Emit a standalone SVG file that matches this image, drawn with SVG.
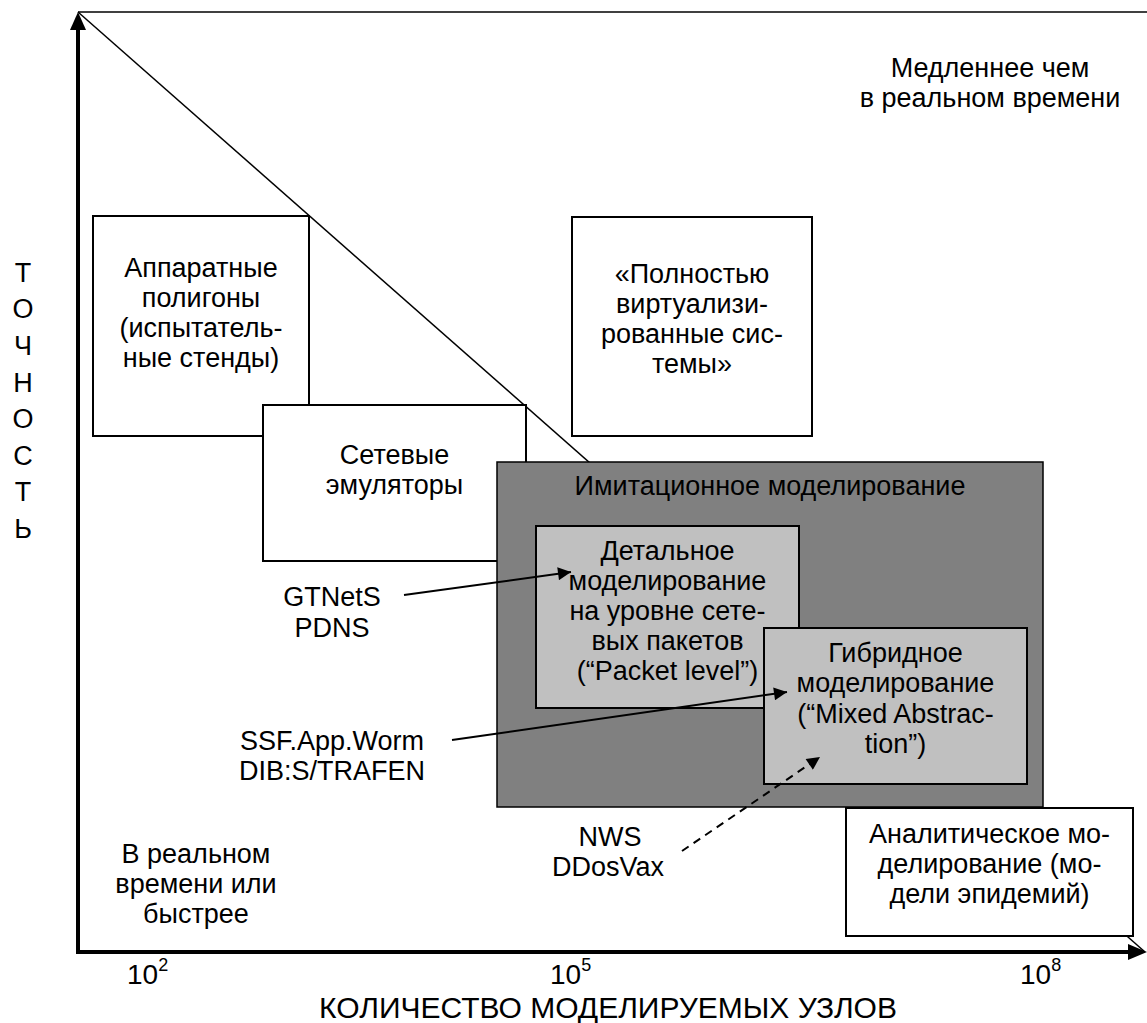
<svg xmlns="http://www.w3.org/2000/svg" width="1147" height="1023" viewBox="0 0 1147 1023">
<defs>
<style>
text{font-family:"Liberation Sans",Arial,sans-serif;fill:#000}
.t{font-size:27px;text-anchor:middle}
.ax{font-size:27px;text-anchor:middle}
.num{font-size:28px}
.sup{font-size:18px}
.white{fill:#fff;stroke:#000;stroke-width:2}
.light{fill:#c0c0c0;stroke:#000;stroke-width:2}
.dark{fill:#808080;stroke:#000;stroke-width:1.5}
.conn{stroke:#000;stroke-width:2;fill:none}
</style>
<marker id="arr" viewBox="0 0 10 10" refX="10" refY="5" markerWidth="16" markerHeight="13" orient="auto" markerUnits="userSpaceOnUse">
<path d="M0,0 L10,5 L0,10 z" fill="#000"/>
</marker>
</defs>
<rect width="1147" height="1023" fill="#fff"/>

<g id="frame">
<line x1="78" y1="12" x2="1147" y2="12" stroke="#000" stroke-width="1.5"/>
<line x1="78" y1="12" x2="1145" y2="952" stroke="#000" stroke-width="1.5"/>
<line x1="78" y1="954" x2="78" y2="26" stroke="#000" stroke-width="4"/>
<path d="M70,30 L78,12 L86,30 z" fill="#000"/>
<line x1="76" y1="952" x2="1132" y2="952" stroke="#000" stroke-width="4"/>
<path d="M1128,944 L1147,952 L1128,960 z" fill="#000"/>
</g>

<g id="y-label" class="ax">
<text x="23" y="282">Т</text>
<text x="23" y="318">О</text>
<text x="23" y="355">Ч</text>
<text x="23" y="392">Н</text>
<text x="23" y="428">О</text>
<text x="23" y="465">С</text>
<text x="23" y="501">Т</text>
<text x="23" y="538">Ь</text>
</g>

<g id="x-label">
<text class="num" x="127" y="984">10<tspan class="sup" dy="-13">2</tspan></text>
<text class="num" x="550" y="984">10<tspan class="sup" dy="-13">5</tspan></text>
<text class="num" x="1020" y="984">10<tspan class="sup" dy="-13">8</tspan></text>
<text x="608" y="1018" font-size="30" text-anchor="middle">КОЛИЧЕСТВО МОДЕЛИРУЕМЫХ УЗЛОВ</text>
</g>

<g id="slow" class="t">
<text x="990" y="77">Медленнее чем</text>
<text x="990" y="107">в реальном времени</text>
</g>

<g id="realtime" class="t">
<text x="196" y="863">В реальном</text>
<text x="196" y="893">времени или</text>
<text x="196" y="923">быстрее</text>
</g>

<g id="testbeds">
<rect class="white" x="93" y="216" width="216" height="220"/>
<text class="t" x="201" y="277">Аппаратные</text>
<text class="t" x="201" y="307">полигоны</text>
<text class="t" x="201" y="337">(испытатель-</text>
<text class="t" x="201" y="367">ные стенды)</text>
</g>

<g id="emulators">
<rect class="white" x="263" y="405" width="263" height="156"/>
<text class="t" x="394.5" y="464">Сетевые</text>
<text class="t" x="394.5" y="494">эмуляторы</text>
</g>

<g id="virtualized">
<rect class="white" x="572" y="217" width="240" height="219"/>
<text class="t" x="692" y="283">«Полностью</text>
<text class="t" x="692" y="313">виртуализи-</text>
<text class="t" x="692" y="343">рованные сис-</text>
<text class="t" x="692" y="373">темы»</text>
</g>

<g id="simulation">
<rect class="dark" x="497" y="462" width="546" height="345"/>
<text class="t" x="770" y="495">Имитационное моделирование</text>
</g>

<g id="packet">
<rect class="light" x="536" y="526" width="263" height="182"/>
<text class="t" x="667.5" y="560">Детальное</text>
<text class="t" x="667.5" y="590">моделирование</text>
<text class="t" x="667.5" y="620">на уровне сете-</text>
<text class="t" x="667.5" y="650">вых пакетов</text>
<text class="t" x="667.5" y="680">(“Packet level”)</text>
</g>

<g id="mixed">
<rect class="light" x="764" y="628" width="263" height="156"/>
<text class="t" x="895.5" y="662">Гибридное</text>
<text class="t" x="895.5" y="692">моделирование</text>
<text class="t" x="895.5" y="723">(“Mixed Abstrac-</text>
<text class="t" x="895.5" y="753">tion”)</text>
</g>

<g id="analytic">
<rect class="white" x="846" y="808" width="287" height="128"/>
<text class="t" x="989.5" y="843">Аналитическое мо-</text>
<text class="t" x="989.5" y="873">делирование (мо-</text>
<text class="t" x="989.5" y="903">дели эпидемий)</text>
</g>

<g id="gtnets" class="t">
<text x="332" y="606">GTNetS</text>
<text x="332" y="637">PDNS</text>
</g>

<g id="ssf" class="t">
<text x="332" y="750">SSF.App.Worm</text>
<text x="332" y="780">DIB:S/TRAFEN</text>
</g>

<g id="nws" class="t">
<text x="610" y="846">NWS</text>
<text x="608" y="876">DDosVax</text>
</g>

<g id="connectors">
<line class="conn" x1="404" y1="595" x2="571" y2="572" marker-end="url(#arr)"/>
<line class="conn" x1="452" y1="740" x2="787" y2="692" marker-end="url(#arr)"/>
<line class="conn" x1="682" y1="851" x2="820" y2="757" stroke-dasharray="8,6" marker-end="url(#arr)"/>
</g>
</svg>
